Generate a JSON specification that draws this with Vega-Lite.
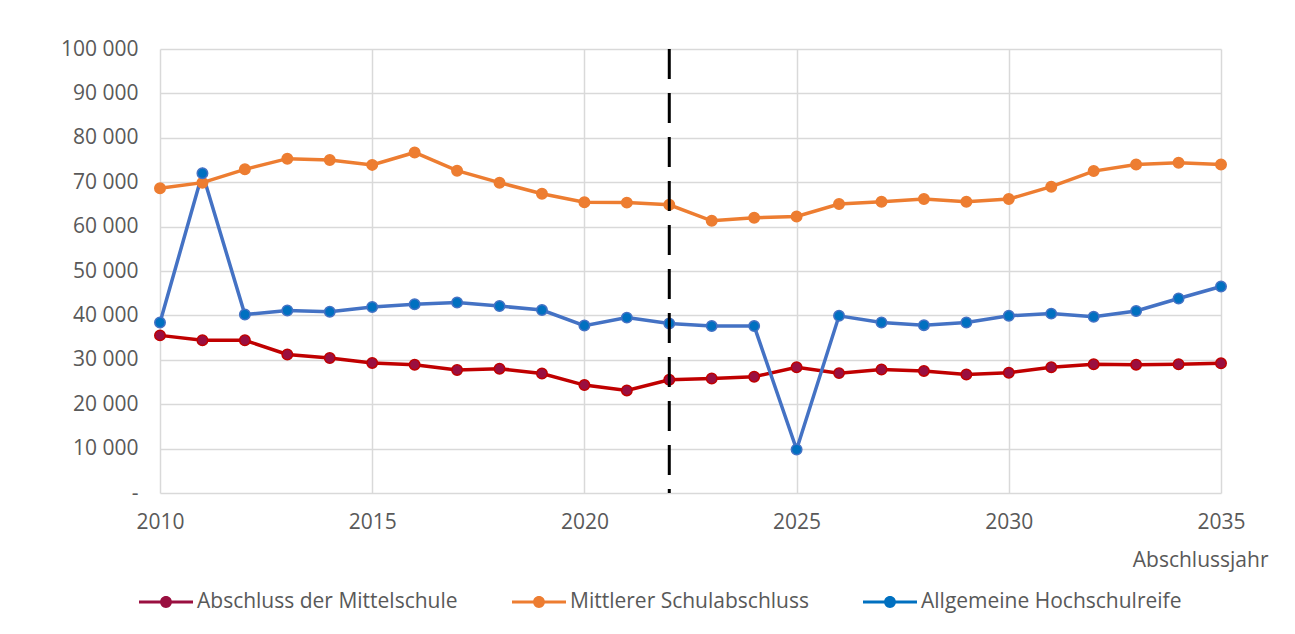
{
  "$schema": "https://vega.github.io/schema/vega-lite/v6.json",
  "autosize": {"type": "none"},
  "padding": {"left": 160, "top": 49, "right": 74, "bottom": 141},
  "width": 1061,
  "height": 444,
  "background": "white",
  "config": {
    "font": "Open Sans",
    "view": {"stroke": null},
    "axis": {"labelFont": "Open Sans", "titleFont": "Open Sans"}
  },
  "datasets": {
    "series": [
      {"year": 2010, "Abschluss der Mittelschule": 35500, "Mittlerer Schulabschluss": 68650, "Allgemeine Hochschulreife": 38400},
      {"year": 2011, "Abschluss der Mittelschule": 34400, "Mittlerer Schulabschluss": 69900, "Allgemeine Hochschulreife": 72000},
      {"year": 2012, "Abschluss der Mittelschule": 34400, "Mittlerer Schulabschluss": 72900, "Allgemeine Hochschulreife": 40200},
      {"year": 2013, "Abschluss der Mittelschule": 31200, "Mittlerer Schulabschluss": 75300, "Allgemeine Hochschulreife": 41100},
      {"year": 2014, "Abschluss der Mittelschule": 30400, "Mittlerer Schulabschluss": 75000, "Allgemeine Hochschulreife": 40800},
      {"year": 2015, "Abschluss der Mittelschule": 29300, "Mittlerer Schulabschluss": 73900, "Allgemeine Hochschulreife": 41900},
      {"year": 2016, "Abschluss der Mittelschule": 28900, "Mittlerer Schulabschluss": 76700, "Allgemeine Hochschulreife": 42500},
      {"year": 2017, "Abschluss der Mittelschule": 27700, "Mittlerer Schulabschluss": 72600, "Allgemeine Hochschulreife": 42900},
      {"year": 2018, "Abschluss der Mittelschule": 28000, "Mittlerer Schulabschluss": 69900, "Allgemeine Hochschulreife": 42100},
      {"year": 2019, "Abschluss der Mittelschule": 26900, "Mittlerer Schulabschluss": 67400, "Allgemeine Hochschulreife": 41200},
      {"year": 2020, "Abschluss der Mittelschule": 24300, "Mittlerer Schulabschluss": 65500, "Allgemeine Hochschulreife": 37700},
      {"year": 2021, "Abschluss der Mittelschule": 23100, "Mittlerer Schulabschluss": 65400, "Allgemeine Hochschulreife": 39500},
      {"year": 2022, "Abschluss der Mittelschule": 25500, "Mittlerer Schulabschluss": 64900, "Allgemeine Hochschulreife": 38200},
      {"year": 2023, "Abschluss der Mittelschule": 25800, "Mittlerer Schulabschluss": 61300, "Allgemeine Hochschulreife": 37600},
      {"year": 2024, "Abschluss der Mittelschule": 26200, "Mittlerer Schulabschluss": 62000, "Allgemeine Hochschulreife": 37600},
      {"year": 2025, "Abschluss der Mittelschule": 28300, "Mittlerer Schulabschluss": 62300, "Allgemeine Hochschulreife": 9800},
      {"year": 2026, "Abschluss der Mittelschule": 27000, "Mittlerer Schulabschluss": 65100, "Allgemeine Hochschulreife": 39900},
      {"year": 2027, "Abschluss der Mittelschule": 27800, "Mittlerer Schulabschluss": 65600, "Allgemeine Hochschulreife": 38400},
      {"year": 2028, "Abschluss der Mittelschule": 27500, "Mittlerer Schulabschluss": 66200, "Allgemeine Hochschulreife": 37800},
      {"year": 2029, "Abschluss der Mittelschule": 26700, "Mittlerer Schulabschluss": 65600, "Allgemeine Hochschulreife": 38400},
      {"year": 2030, "Abschluss der Mittelschule": 27100, "Mittlerer Schulabschluss": 66200, "Allgemeine Hochschulreife": 39900},
      {"year": 2031, "Abschluss der Mittelschule": 28300, "Mittlerer Schulabschluss": 69000, "Allgemeine Hochschulreife": 40400},
      {"year": 2032, "Abschluss der Mittelschule": 29000, "Mittlerer Schulabschluss": 72500, "Allgemeine Hochschulreife": 39700},
      {"year": 2033, "Abschluss der Mittelschule": 28900, "Mittlerer Schulabschluss": 74000, "Allgemeine Hochschulreife": 41000},
      {"year": 2034, "Abschluss der Mittelschule": 29000, "Mittlerer Schulabschluss": 74400, "Allgemeine Hochschulreife": 43800},
      {"year": 2035, "Abschluss der Mittelschule": 29200, "Mittlerer Schulabschluss": 74000, "Allgemeine Hochschulreife": 46500}
    ],
    "marker": [{"year": 2022}]
  },
  "data": {"name": "series"},
  "transform": [
    {"fold": ["Abschluss der Mittelschule", "Mittlerer Schulabschluss", "Allgemeine Hochschulreife"], "as": ["Serie", "Anzahl"]}
  ],
  "encoding": {
    "x": {
      "field": "year", "type": "quantitative",
      "scale": {"domain": [2010, 2035], "nice": false, "zero": false},
      "axis": {
        "values": [2010, 2015, 2020, 2025, 2030, 2035],
        "format": "d",
        "title": "Abschlussjahr",
        "titleFontSize": 21, "titleFontWeight": "normal", "titleColor": "#595959",
        "titleAnchor": null, "titleAlign": "right", "titleBaseline": "middle",
        "titleX": 1108, "titleY": 67,
        "labelFontSize": 21, "labelColor": "#595959", "labelPadding": 18,
        "labelFlush": false, "labelOverlap": false,
        "ticks": false, "domain": false,
        "grid": true, "gridColor": "#d9d9d9", "gridWidth": 1.5
      }
    },
    "y": {
      "field": "Anzahl", "type": "quantitative",
      "scale": {"domain": [0, 100000], "nice": false},
      "axis": {
        "values": [0, 10000, 20000, 30000, 40000, 50000, 60000, 70000, 80000, 90000, 100000],
        "labelExpr": "datum.value == 0 ? '-' : floor(datum.value / 1000) + ' 000'",
        "title": null,
        "labelFontSize": 21, "labelColor": "#595959", "labelPadding": 22,
        "ticks": false, "domain": false,
        "grid": true, "gridColor": "#d9d9d9", "gridWidth": 1.5
      }
    }
  },
  "layer": [
    {
      "mark": {"type": "line", "strokeWidth": 3.5},
      "encoding": {
        "color": {
          "field": "Serie", "type": "nominal",
          "scale": {
            "domain": ["Abschluss der Mittelschule", "Mittlerer Schulabschluss", "Allgemeine Hochschulreife"],
            "range": ["#C00000", "#ED7D31", "#4472C4"]
          },
          "legend": {
            "title": null,
            "orient": "none",
            "legendX": -21,
            "legendY": 526,
            "direction": "horizontal",
            "padding": 0,
            "labelFontSize": 21,
            "labelColor": "#595959",
            "labelLimit": 500,
            "labelOffset": 4,
            "columnPadding": 54,
            "symbolType": "M -1 -0.06 L -0.2 -0.06 L -0.2 0.06 L -1 0.06 Z M 0.2 -0.06 L 1 -0.06 L 1 0.06 L 0.2 0.06 Z M -0.22 0 A 0.22 0.22 0 1 1 0.22 0 A 0.22 0.22 0 1 1 -0.22 0 Z",
            "symbolSize": 2916,
            "symbolStrokeWidth": 0,
            "symbolOpacity": 1
          }
        }
      }
    },
    {
      "mark": {"type": "point", "filled": true, "size": 110, "strokeWidth": 1.5, "opacity": 1},
      "encoding": {
        "fill": {
          "field": "Serie", "type": "nominal",
          "scale": {
            "domain": ["Abschluss der Mittelschule", "Mittlerer Schulabschluss", "Allgemeine Hochschulreife"],
            "range": ["#9A0F40", "#ED7D31", "#0070C0"]
          },
          "legend": null
        },
        "stroke": {
          "field": "Serie", "type": "nominal",
          "scale": {
            "domain": ["Abschluss der Mittelschule", "Mittlerer Schulabschluss", "Allgemeine Hochschulreife"],
            "range": ["#C00000", "#ED7D31", "#4472C4"]
          },
          "legend": null
        }
      }
    },
    {
      "data": {"name": "marker"},
      "transform": [],
      "mark": {"type": "rule", "color": "black", "strokeWidth": 3, "strokeDash": [30, 14]},
      "encoding": {
        "x": {"field": "year", "type": "quantitative"},
        "y": null
      }
    }
  ]
}
